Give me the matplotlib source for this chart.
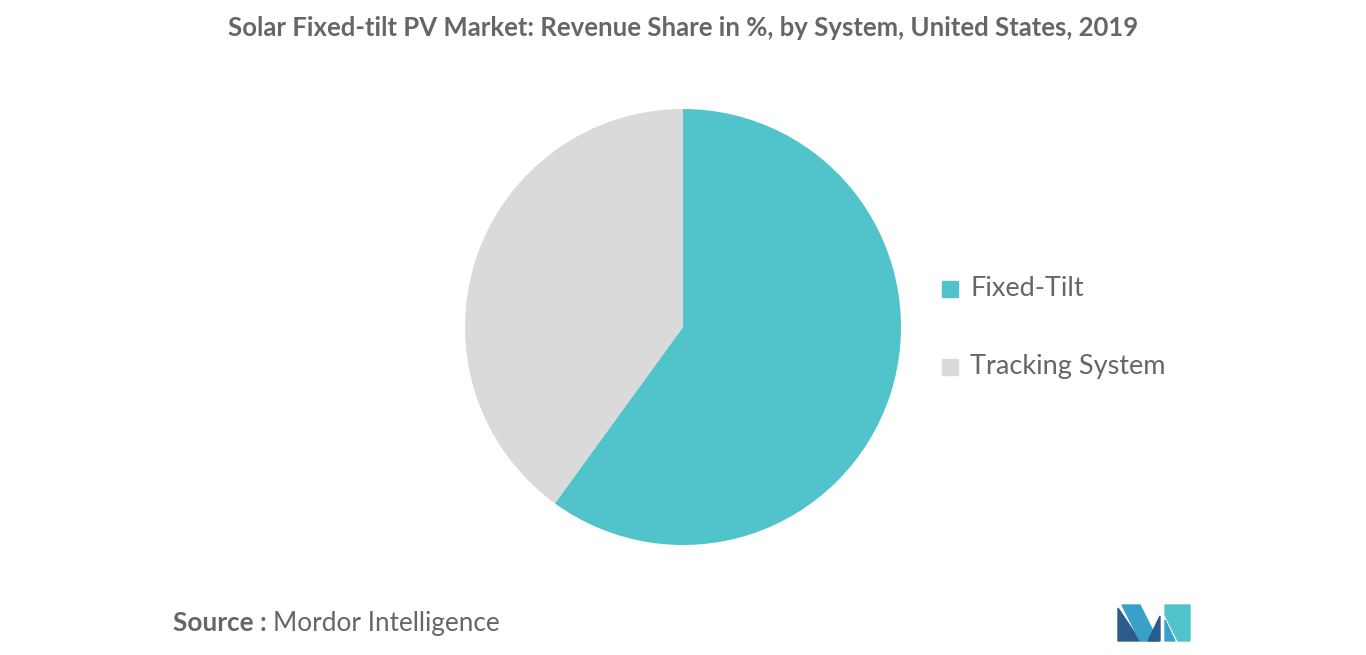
import matplotlib
matplotlib.use("Agg")
import matplotlib.pyplot as plt
from matplotlib.patches import Polygon, Rectangle

labels = ["Fixed-Tilt", "Tracking System"]
values = [60, 40]
colors = ["#50C4CA", "#DADADA"]

W, H = 1366, 655
fig = plt.figure(figsize=(W/100, H/100), dpi=100)
plt.rcParams['font.family'] = ['Lato', 'DejaVu Sans']

r = 218
cx, cy = 683, 327
ax = fig.add_axes([(cx-r)/W, 1-(cy+r)/H, 2*r/W, 2*r/H])
ax.pie(values, colors=colors, startangle=90, counterclock=False, radius=1)
ax.set_xlim(-1, 1)
ax.set_ylim(-1, 1)
ax.set_aspect('equal')
ax.axis('off')

fig.text(683/W, 1-28/H, "Solar Fixed-tilt PV Market: Revenue Share in %, by System, United States, 2019",
         ha='center', va='center', fontsize=18.5, fontweight='bold', color='#666666')

for i, (lab, col) in enumerate(zip(labels, colors)):
    y = 289 + i*78
    fig.patches.append(Rectangle(((942)/W, 1-(y+8)/H), 16/W, 16/H, transform=fig.transFigure,
                                 color=col, figure=fig))
    fig.text(970/W, 1-y/H, lab, ha='left', va='center', fontsize=19.5, color='#666666')

fig.text(173/W, 1-623/H, "Source :", ha='left', va='center', fontsize=18.8, fontweight='bold', color='#666666')
fig.text(273/W, 1-623/H, "Mordor Intelligence", ha='left', va='center', fontsize=18.8, color='#666666')

def P(pts, c):
    fig.patches.append(Polygon([(x/W, 1-y/H) for x, y in pts], closed=True,
                               transform=fig.transFigure, color=c, figure=fig))
P([(1118,641),(1118,608),(1140,641)], "#2B5C8A")
P([(1122,605),(1140,605),(1158,641),(1140,641)], "#3AA0C8")
P([(1148,641),(1160,616),(1160,641)], "#2B5C8A")
P([(1165,605),(1190,605),(1190,641),(1178,641),(1165,615)], "#50C4CA")
P([(1165,620),(1175,641),(1165,641)], "#3AA0C8")

fig.savefig("out.png", dpi=100, facecolor='white')
